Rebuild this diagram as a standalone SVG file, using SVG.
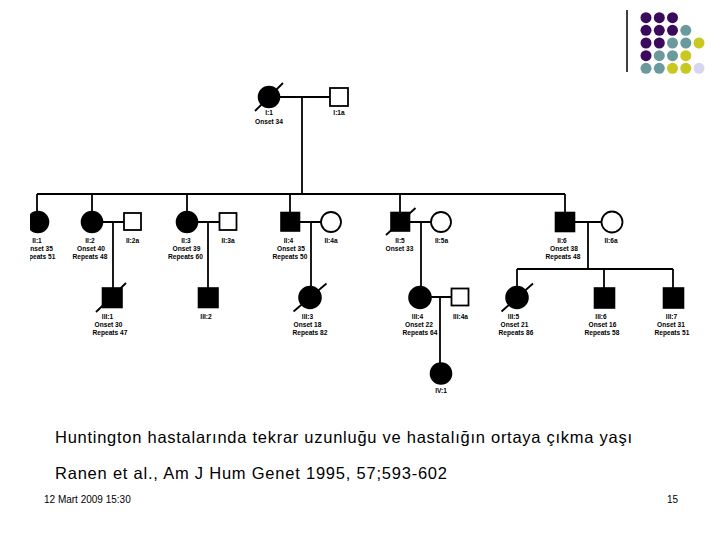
<svg xmlns="http://www.w3.org/2000/svg" width="720" height="540" viewBox="0 0 720 540">
<defs>
<style>
.ln{stroke:#000;stroke-width:1.8;fill:none}
.sl{stroke:#000;stroke-width:1.8;fill:none}
.af{fill:#000;stroke:#000;stroke-width:1.6}
.un{fill:#fff;stroke:#000;stroke-width:1.8}
.lb{font-family:"Liberation Sans",Arial,sans-serif;font-weight:bold;font-size:6.6px;fill:#000;text-anchor:middle}
.cap{font-family:"Liberation Sans",Arial,sans-serif;font-size:16.5px;fill:#000}
.ft{font-family:"Liberation Sans",Arial,sans-serif;font-size:10px;fill:#000}
.p{fill:#3c0a5c}.t{fill:#6b9a9c}.y{fill:#c8c81e}.l{fill:#d6d6ec}
</style>
<clipPath id="cutL"><rect x="30" y="0" width="690" height="540"/></clipPath>
</defs>
<rect width="720" height="540" fill="#fff"/>

<g id="decoration">
<line x1="627" y1="10" x2="627" y2="72" stroke="#000" stroke-width="1.5"/>
<circle class="p" cx="646" cy="17.7" r="5.5"/><circle class="p" cx="659.3" cy="17.7" r="5.5"/><circle class="p" cx="672.5" cy="17.7" r="5.5"/>
<circle class="p" cx="646" cy="30.3" r="5.5"/><circle class="p" cx="659.3" cy="30.3" r="5.5"/><circle class="p" cx="672.5" cy="30.3" r="5.5"/><circle class="t" cx="685.8" cy="30.3" r="5.5"/>
<circle class="p" cx="646" cy="43" r="5.5"/><circle class="p" cx="659.3" cy="43" r="5.5"/><circle class="t" cx="672.5" cy="43" r="5.5"/><circle class="t" cx="685.8" cy="43" r="5.5"/><circle class="y" cx="699" cy="43" r="5.5"/>
<circle class="p" cx="646" cy="55.7" r="5.5"/><circle class="t" cx="659.3" cy="55.7" r="5.5"/><circle class="t" cx="672.5" cy="55.7" r="5.5"/><circle class="y" cx="685.8" cy="55.7" r="5.5"/>
<circle class="t" cx="646" cy="68.3" r="5.5"/><circle class="t" cx="659.3" cy="68.3" r="5.5"/><circle class="y" cx="672.5" cy="68.3" r="5.5"/><circle class="y" cx="685.8" cy="68.3" r="5.5"/><circle class="l" cx="699" cy="68.3" r="5.5"/>
</g>

<g id="connectors">
<line class="ln" x1="269" y1="97" x2="339" y2="97"/>
<line class="ln" x1="302" y1="97" x2="302" y2="194"/>
<line class="ln" x1="37" y1="194" x2="565" y2="194"/>
<line class="ln" x1="37" y1="194" x2="37" y2="212"/>
<line class="ln" x1="92" y1="194" x2="92" y2="212"/>
<line class="ln" x1="187" y1="194" x2="187" y2="212"/>
<line class="ln" x1="290" y1="194" x2="290" y2="212"/>
<line class="ln" x1="400" y1="194" x2="400" y2="212"/>
<line class="ln" x1="565" y1="194" x2="565" y2="212"/>
<line class="ln" x1="92" y1="222" x2="132" y2="222"/>
<line class="ln" x1="113" y1="222" x2="113" y2="288"/>
<line class="ln" x1="187" y1="222" x2="228" y2="222"/>
<line class="ln" x1="208" y1="222" x2="208" y2="288"/>
<line class="ln" x1="290" y1="222" x2="331" y2="222"/>
<line class="ln" x1="311" y1="222" x2="311" y2="288"/>
<line class="ln" x1="400" y1="222" x2="441" y2="222"/>
<line class="ln" x1="421" y1="222" x2="421" y2="288"/>
<line class="ln" x1="565" y1="222" x2="612" y2="222"/>
<line class="ln" x1="588" y1="222" x2="588" y2="269"/>
<line class="ln" x1="517" y1="269" x2="673" y2="269"/>
<line class="ln" x1="517" y1="269" x2="517" y2="288"/>
<line class="ln" x1="604" y1="269" x2="604" y2="288"/>
<line class="ln" x1="673" y1="269" x2="673" y2="288"/>
<line class="ln" x1="420" y1="297" x2="460" y2="297"/>
<line class="ln" x1="440" y1="297" x2="440" y2="363"/>
</g>

<g id="I1"><circle class="af" cx="269" cy="97" r="10.5"/><line class="sl" x1="255" y1="111" x2="283" y2="83"/><text class="lb" x="269" y="115">I:1</text><text class="lb" x="269" y="123.5">Onset 34</text></g>
<g id="I1a"><rect class="un" x="330" y="88" width="18" height="18"/><text class="lb" x="339" y="115">I:1a</text></g>

<g id="II1" clip-path="url(#cutL)"><circle class="af" cx="38" cy="222" r="10.5"/><text class="lb" x="37" y="243">II:1</text><text class="lb" x="39" y="251">Onset 35</text><text class="lb" x="38" y="259">Repeats 51</text></g>
<g id="II2"><circle class="af" cx="92" cy="222" r="10.5"/><text class="lb" x="90" y="243">II:2</text><text class="lb" x="91" y="251">Onset 40</text><text class="lb" x="90" y="259">Repeats 48</text></g>
<g id="II2a"><rect class="un" x="124" y="213" width="17" height="17"/><text class="lb" x="132.5" y="243">II:2a</text></g>
<g id="II3"><circle class="af" cx="187" cy="222" r="10.5"/><text class="lb" x="186" y="243">II:3</text><text class="lb" x="186.5" y="251">Onset 39</text><text class="lb" x="185.5" y="259">Repeats 60</text></g>
<g id="II3a"><rect class="un" x="219.5" y="213" width="17" height="17"/><text class="lb" x="228" y="243">II:3a</text></g>
<g id="II4"><rect class="af" x="281" y="212.5" width="18.5" height="18.5"/><text class="lb" x="288.5" y="243">II:4</text><text class="lb" x="291" y="251">Onset 35</text><text class="lb" x="290" y="259">Repeats 50</text></g>
<g id="II4a"><circle class="un" cx="331" cy="222" r="10"/><text class="lb" x="331" y="243">II:4a</text></g>
<g id="II5"><rect class="af" x="391" y="212.5" width="18.5" height="18.5"/><line class="sl" x1="386" y1="235" x2="415.5" y2="208"/><text class="lb" x="400" y="243">II:5</text><text class="lb" x="399.5" y="251">Onset 33</text></g>
<g id="II5a"><circle class="un" cx="441" cy="222" r="10"/><text class="lb" x="441.5" y="243">II:5a</text></g>
<g id="II6"><rect class="af" x="555.5" y="212.5" width="19" height="19"/><text class="lb" x="562" y="243">II:6</text><text class="lb" x="564" y="251">Onset 38</text><text class="lb" x="563" y="259">Repeats 48</text></g>
<g id="II6a"><circle class="un" cx="612" cy="222" r="10.5"/><text class="lb" x="611" y="243">II:6a</text></g>

<g id="III1"><rect class="af" x="102.5" y="288" width="19.5" height="19.5"/><line class="sl" x1="96" y1="312" x2="126" y2="283"/><text class="lb" x="107.5" y="318.5">III:1</text><text class="lb" x="108.5" y="326.5">Onset 30</text><text class="lb" x="110" y="334.5">Repeats 47</text></g>
<g id="III2"><rect class="af" x="198.5" y="288" width="19.5" height="19.5"/><text class="lb" x="206" y="318.5">III:2</text></g>
<g id="III3"><circle class="af" cx="310" cy="297.5" r="11"/><line class="sl" x1="293.5" y1="311.5" x2="326.5" y2="283.5"/><text class="lb" x="307.5" y="318.5">III:3</text><text class="lb" x="307.5" y="326.5">Onset 18</text><text class="lb" x="310" y="334.5">Repeats 82</text></g>
<g id="III4"><circle class="af" cx="420" cy="297.5" r="11"/><text class="lb" x="417.5" y="318.5">III:4</text><text class="lb" x="419" y="326.5">Onset 22</text><text class="lb" x="420" y="334.5">Repeats 64</text></g>
<g id="III4a"><rect class="un" x="451.5" y="288.5" width="17" height="17"/><text class="lb" x="460.5" y="318.5">III:4a</text></g>
<g id="III5"><circle class="af" cx="517" cy="297.5" r="11"/><line class="sl" x1="501.5" y1="311.5" x2="533" y2="283.5"/><text class="lb" x="513.5" y="318.5">III:5</text><text class="lb" x="514.5" y="326.5">Onset 21</text><text class="lb" x="516" y="334.5">Repeats 86</text></g>
<g id="III6"><rect class="af" x="594.5" y="288" width="20" height="20"/><text class="lb" x="601" y="318.5">III:6</text><text class="lb" x="602.5" y="326.5">Onset 16</text><text class="lb" x="602" y="334.5">Repeats 58</text></g>
<g id="III7"><rect class="af" x="663.5" y="288" width="20" height="20"/><text class="lb" x="671.5" y="318.5">III:7</text><text class="lb" x="671" y="326.5">Onset 31</text><text class="lb" x="672" y="334.5">Repeats 51</text></g>

<g id="IV1"><circle class="af" cx="441" cy="373.5" r="10.5"/><text class="lb" x="441" y="393">IV:1</text></g>

<g id="captions">
<text class="cap" x="55" y="443" textLength="577" lengthAdjust="spacing">Huntington hastalarında tekrar uzunluğu ve hastalığın ortaya çıkma yaşı</text>
<text class="cap" x="55" y="478.5" textLength="392" lengthAdjust="spacing">Ranen et al., Am J Hum Genet 1995, 57;593-602</text>
<text class="ft" x="44" y="503">12 Mart 2009 15:30</text>
<text class="ft" x="667" y="503">15</text>
</g>
</svg>
